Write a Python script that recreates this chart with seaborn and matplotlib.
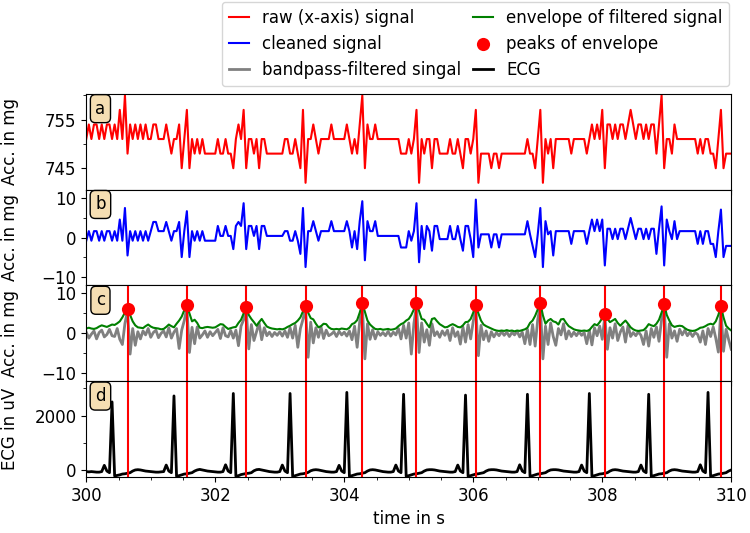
import numpy as np
import matplotlib
matplotlib.use('Agg')
import matplotlib.pyplot as plt
from matplotlib.ticker import AutoMinorLocator, MultipleLocator
import seaborn as sns

plt.rcParams['font.size'] = 12
plt.rcParams['font.family'] = ['DejaVu Sans']

# sample grid (25 Hz, starting at 300 s)
t_start = 300.0
fs = 25

# a) raw x-axis acceleration in mg
raw = [751, 754, 751, 754, 754, 751, 754, 751, 754, 754,
       751, 754, 751, 757, 751, 760, 748, 754, 751, 754,
       751, 754, 751, 754, 751, 751, 754, 754, 751, 751,
       751, 754, 751, 748, 751, 751, 754, 745, 751, 757,
       745, 751, 748, 751, 748, 751, 748, 748, 748, 748,
       748, 751, 748, 748, 751, 748, 748, 745, 751, 754,
       751, 757, 745, 751, 751, 748, 751, 745, 751, 751,
       748, 748, 748, 748, 748, 748, 748, 751, 751, 748,
       748, 751, 748, 745, 757, 742, 751, 751, 754, 751,
       748, 751, 751, 751, 751, 754, 751, 751, 751, 751,
       751, 754, 751, 748, 751, 748, 754, 760, 745, 754,
       751, 751, 754, 751, 751, 751, 751, 751, 751, 751,
       751, 751, 748, 748, 748, 751, 748, 751, 757, 742,
       751, 748, 751, 751, 745, 751, 751, 748, 748, 748,
       748, 751, 748, 748, 751, 748, 745, 751, 751, 748,
       751, 757, 742, 748, 748, 748, 748, 745, 748, 748,
       745, 748, 748, 748, 748, 748, 748, 748, 748, 748,
       748, 751, 748, 748, 745, 751, 757, 742, 751, 748,
       751, 745, 751, 751, 751, 751, 751, 751, 748, 751,
       751, 751, 751, 751, 748, 751, 754, 751, 754, 751,
       757, 745, 754, 754, 751, 754, 751, 754, 754, 751,
       754, 757, 754, 751, 754, 754, 751, 754, 751, 754,
       754, 748, 754, 760, 745, 751, 751, 748, 754, 751,
       751, 751, 751, 751, 751, 751, 751, 748, 751, 748,
       751, 751, 748, 748, 745, 751, 757, 745, 748, 748,
       748]

# b) cleaned signal in mg
cleaned = [-0.8, 1.6, -0.8, 1.6, 1.6, -0.8, 1.6, -0.8, 1.6, 1.6,
           -0.8, 1.6, -0.8, 4.5, -0.8, 7.4, -4.5, 1.6, -0.8, 1.6,
           -0.8, 1.6, -0.8, 1.6, -0.8, 1.6, 3.9, 3.9, 1.6, 1.6,
           1.6, 3.9, 1.6, -0.8, 1.6, 1.6, 3.9, -4.9, 1.6, 6.6,
           -4.9, 1.6, -0.8, 1.6, -0.8, 1.6, -0.8, -0.8, -0.8, -0.8,
           -0.8, 2.9, 0.4, 0.4, 2.9, 0.4, 0.4, -2.9, 2.9, 3.9,
           2.9, 8.6, -2.9, 2.9, 2.9, 0.4, 2.9, -2.9, 2.9, 2.9,
           0.4, 0.4, 0.4, 0.4, 0.4, 0.4, 0.4, 1.6, 1.6, -0.8,
           -0.8, 1.6, -0.8, -4.1, 7.4, -7.4, 1.6, 1.6, 4.1, 1.6,
           -0.8, 1.6, 1.6, 1.6, 1.6, 4.1, 1.6, 1.6, 1.6, 1.6,
           1.6, 4.1, 1.6, -2.5, 1.6, -2.9, 4.1, 9.1, -5.7, 4.1,
           1.6, 1.6, 4.1, 0.4, 0.4, 0.4, 0.4, 0.4, 0.4, 0.4,
           0.4, 0.4, -2.5, -2.5, -2.5, 1.6, -0.8, 1.6, 8.6, -6.2,
           2.9, -2.9, 2.9, 1.6, -3.3, 2.9, 2.9, -0.4, -0.4, -0.4,
           -0.4, 2.9, -0.4, -0.4, 2.9, -0.4, -3.3, 2.9, 2.9, -0.4,
           -4.9, 9.5, -2.5, 0.8, 0.8, 0.8, 0.8, -2.5, 0.8, 0.8,
           -2.5, 0.8, 0.8, 0.8, 0.8, 0.8, 0.8, 0.8, 0.8, 0.8,
           0.8, 4.1, 0.8, -2.1, -4.9, 0.8, 7.4, -7.4, 4.1, 0.8,
           1.6, -4.5, 1.6, 1.6, 1.6, 1.6, 1.6, 1.6, -1.6, 1.6,
           1.6, 1.6, 1.6, 1.6, -1.6, 1.6, 4.5, 1.6, 4.5, 1.6,
           4.5, -7.0, 2.2, 2.2, -0.4, 2.2, -0.4, 2.2, 2.2, -0.4,
           2.2, 4.9, 2.2, -0.4, 2.2, 2.2, -0.4, 2.2, -0.4, 2.2,
           2.2, -4.1, 2.2, 7.8, -7.0, 4.5, 1.6, -0.4, 4.1, -0.4,
           1.6, 1.6, 1.6, 1.6, 1.6, 1.6, 1.6, -1.6, 1.6, -1.6,
           1.6, 1.6, -1.6, -1.6, -4.9, 1.6, 7.0, -4.9, -2.1, -2.1,
           -2.1]

# c) bandpass-filtered signal and its envelope in mg
bandpass = [0.3, -1.2, -0.2, 0.6, -1.4, 0.2, 0.8, -0.9, -0.3, 1.0,
            -0.6, -0.8, 1.2, -1.5, -2.8, 2.5, 5.6, -5.2, 1.2, -3.0,
            0.4, -1.4, 0.6, -0.4, 1.2, -1.0, 0.2, 0.8, -1.1, 0.0,
            0.6, -0.9, 1.4, -1.2, 0.3, 1.2, -3.8, 0.8, 3.2, 6.5,
            -4.8, 1.5, -2.6, 1.6, -1.2, -0.4, 0.6, -1.0, 0.4, -0.6,
            0.2, 1.0, -1.3, 1.4, -0.6, -0.9, 0.7, -1.2, 0.8, -3.1,
            1.8, 3.4, 6.0, -3.9, 2.2, -1.8, 0.4, 2.6, -1.6, 1.4,
            -0.6, 0.3, -0.8, 0.2, -0.5, 0.4, -0.7, 0.6, -1.0, 1.4,
            -1.2, 2.0, -3.5, 1.2, 3.5, 6.4, -6.0, 2.8, -2.4, 1.4,
            -1.0, 1.6, -1.3, 0.8, -0.6, -0.2, 0.4, -0.8, 0.5, -0.4,
            0.3, -0.7, 0.6, -1.6, 1.8, -3.5, 3.0, 7.0, -6.4, 2.4,
            -1.5, 0.9, -1.4, 0.4, -0.5, 0.2, -0.6, 0.5, -0.7, 0.3,
            -0.4, 1.2, -1.4, 2.0, -1.2, 2.6, -5.2, 2.5, 7.0, -4.8,
            2.6, -2.2, 0.9, -3.0, 2.4, -0.6, 0.4, -1.0, 0.6, -0.5,
            0.8, -1.8, 1.4, -0.8, 0.4, -2.7, 1.6, -2.2, 2.2, -1.4,
            3.0, 6.6, -5.6, 2.0, -1.6, 0.6, -2.0, 0.4, -0.9, 0.2,
            -0.6, 0.4, -0.5, 0.3, -0.8, 0.2, -0.4, 0.5, -0.9, 0.3,
            -2.6, 1.0, -2.8, 2.2, -3.2, 3.5, 7.0, -6.4, 1.8, -2.8,
            2.6, -0.8, -3.0, 1.2, -0.4, 2.4, -1.4, 0.6, -0.8, 0.3,
            -0.6, 0.4, -0.5, 0.2, -2.6, 0.8, -2.9, 1.4, -0.6, 1.8,
            -1.5, 4.2, -4.0, 1.4, -1.2, 2.4, -1.8, 0.3, 1.6, -2.2,
            2.0, -0.8, 0.2, -0.6, 0.4, -0.5, -2.8, 0.6, -3.2, 1.2,
            -1.0, 1.6, -2.0, 3.4, 6.8, -6.0, 2.4, -1.2, 0.6, -2.0,
            1.0, -0.4, 0.8, -0.6, 0.3, -0.8, 0.2, -0.3, -2.2, 0.6,
            -2.8, 1.2, -0.8, 1.6, -1.2, -4.7, 6.2, -4.5, 1.0, -1.6,
            -4.0]

envelope = [1.2, 1.4, 1.2, 1.1, 1.3, 1.7, 2.0, 1.8, 1.6, 1.9,
            2.2, 2.1, 2.5, 3.0, 4.0, 5.2, 6.1, 4.6, 3.0, 2.0,
            1.5, 1.4, 1.3, 1.8, 2.2, 1.7, 1.4, 1.3, 1.2, 1.0,
            1.1, 1.6, 2.2, 1.8, 1.5, 2.4, 3.2, 4.2, 5.8, 7.0,
            5.0, 3.0, 3.4, 2.6, 1.4, 1.3, 1.5, 1.6, 1.5, 1.4,
            1.5, 1.9, 2.3, 2.2, 1.6, 1.1, 1.3, 1.5, 1.6, 2.6,
            3.4, 5.0, 6.5, 4.6, 3.6, 2.8, 1.9, 2.8, 3.6, 2.6,
            1.7, 1.4, 1.2, 1.1, 1.0, 1.1, 1.0, 1.2, 1.6, 1.9,
            2.3, 2.6, 3.2, 4.0, 5.5, 6.9, 5.2, 3.8, 3.5, 2.4,
            1.5, 1.8, 2.4, 2.3, 1.5, 1.1, 1.0, 1.1, 1.0, 1.2,
            1.1, 1.0, 1.4, 2.3, 2.6, 3.3, 5.2, 7.5, 5.4, 3.2,
            2.2, 1.6, 1.1, 1.0, 1.1, 0.9, 1.0, 1.1, 0.9, 1.0,
            1.2, 1.8, 2.3, 2.6, 3.2, 3.6, 4.6, 6.0, 7.5, 5.6,
            3.6, 3.4, 2.4, 1.5, 3.6, 3.8, 3.0, 2.3, 1.9, 1.5,
            1.6, 2.0, 2.3, 2.0, 1.6, 1.5, 2.0, 2.8, 2.9, 3.6,
            5.2, 7.1, 5.0, 3.2, 2.2, 1.8, 1.5, 1.2, 0.9, 0.7,
            0.6, 0.7, 0.6, 0.8, 0.6, 0.7, 0.5, 0.7, 0.6, 0.8,
            1.0, 1.4, 2.6, 3.2, 4.4, 6.0, 7.6, 4.5, 2.4, 3.2,
            3.6, 3.0, 2.8, 2.2, 3.5, 3.6, 2.6, 1.8, 1.4, 1.0,
            0.8, 0.7, 0.6, 0.7, 0.6, 0.8, 1.6, 2.3, 2.0, 2.8,
            3.8, 4.8, 3.6, 2.8, 3.2, 3.6, 2.6, 1.9, 2.6, 3.2,
            2.4, 1.5, 1.0, 0.7, 0.6, 0.7, 0.8, 1.4, 2.3, 2.0,
            1.8, 2.4, 3.4, 5.2, 7.3, 4.6, 3.2, 2.0, 1.6, 1.8,
            1.9, 1.8, 1.3, 0.9, 0.7, 0.6, 0.7, 1.0, 1.4, 1.5,
            1.8, 2.2, 2.4, 2.2, 3.0, 4.6, 6.8, 4.0, 1.9, 1.2,
            0.7]

# sample indices of the envelope peaks
peak_idx = [16, 39, 62, 85, 107, 128, 151, 176, 201, 224, 246]

# d) ECG in uV
ecg = [-60, -70, -60, -70, -80, -80, -60, 170, -40, -100,
       2500, -220, -200, -180, -150, -140, -120, -100, -40, 0,
       10, 0, -20, -40, -50, -60, -70, -80, -80, -70,
       -60, 180, -40, -100, 2720, -230, -210, -180, -150, -140,
       -120, -100, -40, 0, 20, 0, -20, -40, -50, -60,
       -70, -80, -80, -60, 190, -40, -100, 2810, -230, -210,
       -170, -150, -130, -120, -100, -30, 10, 20, 0, -20,
       -40, -60, -70, -80, -80, -60, 180, -40, -100, 2810,
       -240, -210, -180, -150, -140, -120, -90, -30, 0, 10,
       0, -20, -40, -60, -70, -80, -80, -60, 170, -40,
       -100, 2850, -230, -210, -180, -150, -140, -120, -100, -40,
       0, 10, 0, -20, -40, -60, -70, -80, -80, -60,
       180, -40, -100, 2780, -230, -210, -180, -150, -140, -120,
       -100, -40, 0, 10, 10, 0, -20, -40, -50, -60,
       -70, -80, -80, -60, 180, -40, -100, 2750, -230, -210,
       -180, -150, -140, -120, -100, -40, 0, 10, 10, 0,
       -20, -40, -50, -60, -70, -80, -80, -60, 190, -40,
       -100, 2780, -230, -210, -180, -150, -140, -120, -100, -40,
       0, 10, 10, 0, -20, -40, -50, -60, -70, -80,
       -80, -60, 180, -40, -100, 2810, -230, -210, -180, -150,
       -140, -120, -100, -40, 0, 10, 0, -20, -40, -50,
       -60, -70, -80, -80, -60, 180, -40, -100, 2780, -230,
       -210, -180, -150, -140, -120, -100, -40, 0, 10, 0,
       -20, -40, -50, -60, -70, -80, -80, -60, 190, -40,
       -100, 2850, -230, -210, -180, -150, -140, -120, -100, -40,
       0]

n = len(raw)
t = t_start + np.arange(n) / fs
env = np.array(envelope)
peak_t = t[peak_idx]
peak_v = env[peak_idx]

fig, axes = plt.subplots(4, 1, sharex=True, figsize=(7.5, 5.33), dpi=100)
fig.subplots_adjust(left=0.115, right=0.975, top=0.824, bottom=0.105, hspace=0)
ax_a, ax_b, ax_c, ax_d = axes

handles = []
sns.lineplot(x=t, y=raw, ax=ax_a, color='red', linewidth=1.5, legend=False)
handles.append((ax_a.lines[-1], 'raw (x-axis) signal'))
sns.lineplot(x=t, y=cleaned, ax=ax_b, color='blue', linewidth=1.5, legend=False)
handles.append((ax_b.lines[-1], 'cleaned signal'))
sns.lineplot(x=t, y=bandpass, ax=ax_c, color='gray', linewidth=2, legend=False)
handles.append((ax_c.lines[-1], 'bandpass-filtered singal'))
sns.lineplot(x=t, y=envelope, ax=ax_c, color='green', linewidth=1.5, legend=False)
handles.append((ax_c.lines[-1], 'envelope of filtered signal'))
for ax in (ax_c, ax_d):
    for x in peak_t:
        ax.axvline(x, color='red', linewidth=1.5, zorder=2.5)
sns.scatterplot(x=peak_t, y=peak_v, ax=ax_c, color='red', s=90, linewidth=0,
                zorder=4, legend=False)
handles.append((ax_c.collections[-1], 'peaks of envelope'))
sns.lineplot(x=t, y=ecg, ax=ax_d, color='black', linewidth=2, legend=False)
handles.append((ax_d.lines[-1], 'ECG'))

ax_a.set_ylim(740.6, 760.3)
ax_a.set_yticks([745, 755])
ax_b.set_ylim(-12, 12)
ax_b.set_yticks([-10, 0, 10])
ax_c.set_ylim(-12, 12)
ax_c.set_yticks([-10, 0, 10])
ax_d.set_ylim(-260, 3260)
ax_d.set_yticks([0, 2000])
ax_d.set_xlim(300, 310)
ax_d.xaxis.set_minor_locator(MultipleLocator(0.5))
ax_d.set_xlabel('time in s')

for ax, lab, yl in zip(axes, 'abcd', ['Acc. in mg'] * 3 + ['ECG in uV']):
    ax.yaxis.set_minor_locator(AutoMinorLocator(2))
    ax.set_ylabel(yl)
    ax.yaxis.set_label_coords(-0.104, 0.5)
    ax.text(0.022, 0.845, lab, transform=ax.transAxes, ha='center', va='center',
            zorder=10, bbox=dict(boxstyle='round', facecolor='wheat'))

ax_a.legend([h for h, _ in handles], [l for _, l in handles], ncol=2,
            loc='lower right', bbox_to_anchor=(0.997, 1.083), borderaxespad=0,
            handlelength=1.2, columnspacing=0.7)

fig.savefig('out.png', dpi=100)
